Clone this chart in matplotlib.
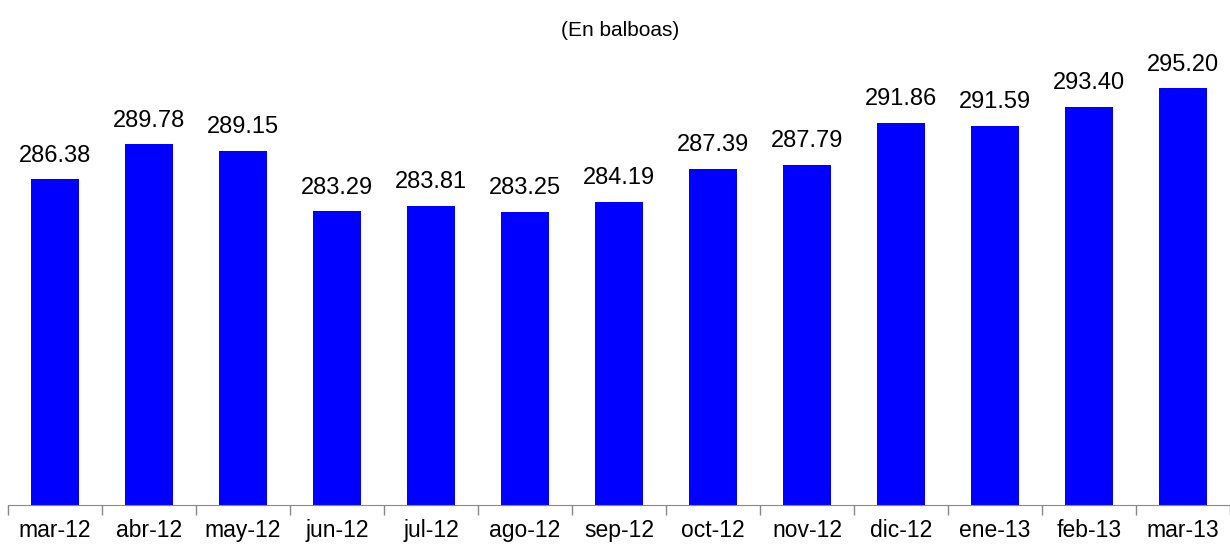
import matplotlib.pyplot as plt
import numpy as np

plt.rcParams['font.family'] = ['Liberation Sans', 'DejaVu Sans']

# datos del gráfico (En balboas)
meses = ["mar-12", "abr-12", "may-12", "jun-12", "jul-12", "ago-12", "sep-12",
         "oct-12", "nov-12", "dic-12", "ene-13", "feb-13", "mar-13"]
valores = [286.38, 289.78, 289.15, 283.29, 283.81, 283.25, 284.19,
           287.39, 287.79, 291.86, 291.59, 293.40, 295.20]

fig = plt.figure(figsize=(12.3, 5.46), dpi=100)
ax = fig.add_axes([8 / 1230, 41 / 546, 1 - 8 / 1230, 1 - 82 / 546])

x = np.arange(len(meses))
barras = ax.bar(x, valores, width=0.52, color="#0000FF", zorder=2)

for xi, v in zip(x, valores):
    ax.annotate("{:.2f}".format(v), (xi, v), xytext=(0, 9), textcoords="offset points",
                ha="center", va="bottom", fontsize=17)

ax.set_ylim(254.8, 299.8)
ax.set_xlim(-0.5, len(meses) - 0.5)

# etiquetas en el centro, marcas entre categorías
ax.set_xticks(x)
ax.set_xticklabels(meses, fontsize=16.5)
ax.tick_params(axis="x", which="major", length=0, pad=10)
ax.set_xticks(np.arange(-0.5, len(meses), 1), minor=True)
ax.tick_params(axis="x", which="minor", length=7, color="#888888", width=1)

ax.set_yticks([])
for lado in ["top", "right", "left"]:
    ax.spines[lado].set_visible(False)
ax.spines["bottom"].set_color("#888888")

fig.text(0.504, 1 - 30 / 546, "(En balboas)", ha="center", va="center", fontsize=15)

fig.savefig("out.png", dpi=100)
